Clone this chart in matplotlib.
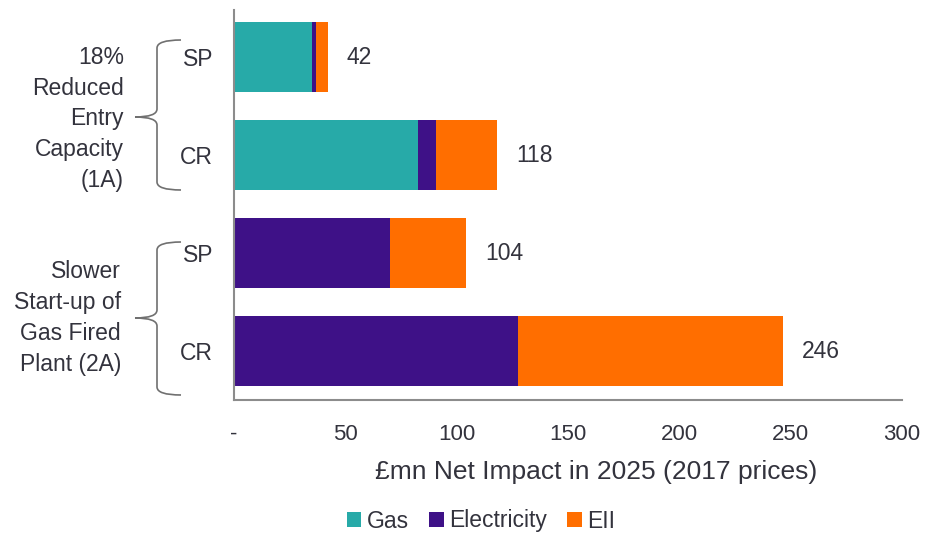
import matplotlib
matplotlib.use("Agg")
import matplotlib.pyplot as plt
from matplotlib.path import Path
from matplotlib.patches import PathPatch, Patch
import numpy as np

plt.rcParams['font.family'] = ['Liberation Sans', 'DejaVu Sans']

categories = ["SP", "CR", "SP", "CR"]
groups = ["18%\nReduced\nEntry\nCapacity\n(1A)", "Slower\nStart-up of\nGas Fired\nPlant (2A)"]
gas = [35.0, 82.5, 0.0, 0.0]
electricity = [2.0, 8.0, 70.0, 127.5]
eii = [5.0, 27.5, 34.0, 119.0]
totals = [42, 118, 104, 246]
xticks = [0, 50, 100, 150, 200, 250, 300]
xticklabels = ["-", "50", "100", "150", "200", "250", "300"]
series_names = ["Gas", "Electricity", "EII"]
colors = ["#27AAA8", "#3E1187", "#FF6E00"]
text_color = "#33333D"
axis_color = "#8C8C8C"

W, H = 925, 533
fig = plt.figure(figsize=(W/100, H/100), dpi=100)
ax = fig.add_axes([234/W, 1 - 400/H, (902-234)/W, (400-10)/H])

y = np.arange(len(categories))
left = np.zeros(len(categories))
for vals, col, name in zip([gas, electricity, eii], colors, series_names):
    ax.barh(y, vals, left=left, height=0.72, color=col, label=name, edgecolor='none')
    left = left + np.array(vals)

for yi, tot, end in zip(y, totals, left):
    ax.annotate(f"{tot}", xy=(end, yi), xytext=(14, 0), textcoords="offset points",
                va="center", ha="left", fontsize=16.5, color=text_color)

ax.set_ylim(3.5, -0.48)
ax.set_xlim(0, 300)
ax.set_xticks(xticks)
ax.set_xticklabels(xticklabels, fontsize=16, color=text_color)
ax.set_yticks(y)
ax.set_yticklabels(categories, fontsize=16.5, color=text_color)
ax.tick_params(axis='x', length=0, pad=17)
ax.tick_params(axis='y', length=0, pad=15)
ax.set_xlabel("£mn Net Impact in 2025 (2017 prices)", fontsize=19, color=text_color, labelpad=9)
ax.xaxis.set_label_coords((596 - 234) / 668, -60 / 390)

for s in ["top", "right"]:
    ax.spines[s].set_visible(False)
for s in ["left", "bottom"]:
    ax.spines[s].set_color(axis_color)
    ax.spines[s].set_linewidth(1.5)

# Braces in pixel coordinates (figure)
def px(x, yy):
    return (x / W, 1 - yy / H)

def brace(y_top, y_bot, y_mid, x_end=181, x_v=157, x_tip=135):
    r = 8
    verts = [
        px(x_end, y_top), px(x_v, y_top), px(x_v, y_top + r),
        px(x_v, y_mid - r), px(x_v, y_mid), px(x_tip, y_mid),
        px(x_v, y_mid), px(x_v, y_mid + r),
        px(x_v, y_bot - r), px(x_v, y_bot), px(x_end, y_bot),
    ]
    codes = [Path.MOVETO, Path.CURVE3, Path.CURVE3,
             Path.LINETO, Path.CURVE3, Path.CURVE3,
             Path.CURVE3, Path.CURVE3,
             Path.LINETO, Path.CURVE3, Path.CURVE3]
    p = PathPatch(Path(verts, codes), transform=fig.transFigure, fill=False,
                  edgecolor="#707070", linewidth=1.2)
    fig.add_artist(p)

brace(40, 190, 117)
brace(242, 395, 318)

fig.text(124/W, 1 - 119/H, groups[0], ha="right", va="center", fontsize=16.5,
         color=text_color, linespacing=1.44)
fig.text(121/W, 1 - 318/H, groups[1], ha="right", va="center", fontsize=16.5,
         color=text_color, linespacing=1.44)

handles = [Patch(facecolor=c, edgecolor='none') for c in colors]
fig.legend(handles, series_names, loc="center", bbox_to_anchor=(481/W, 1 - 521/H),
           ncol=3, frameon=False, fontsize=16.5, handlelength=0.65, handleheight=0.65,
           handletextpad=0.25, columnspacing=0.85, labelcolor=text_color)

fig.savefig("out.png", dpi=100)
